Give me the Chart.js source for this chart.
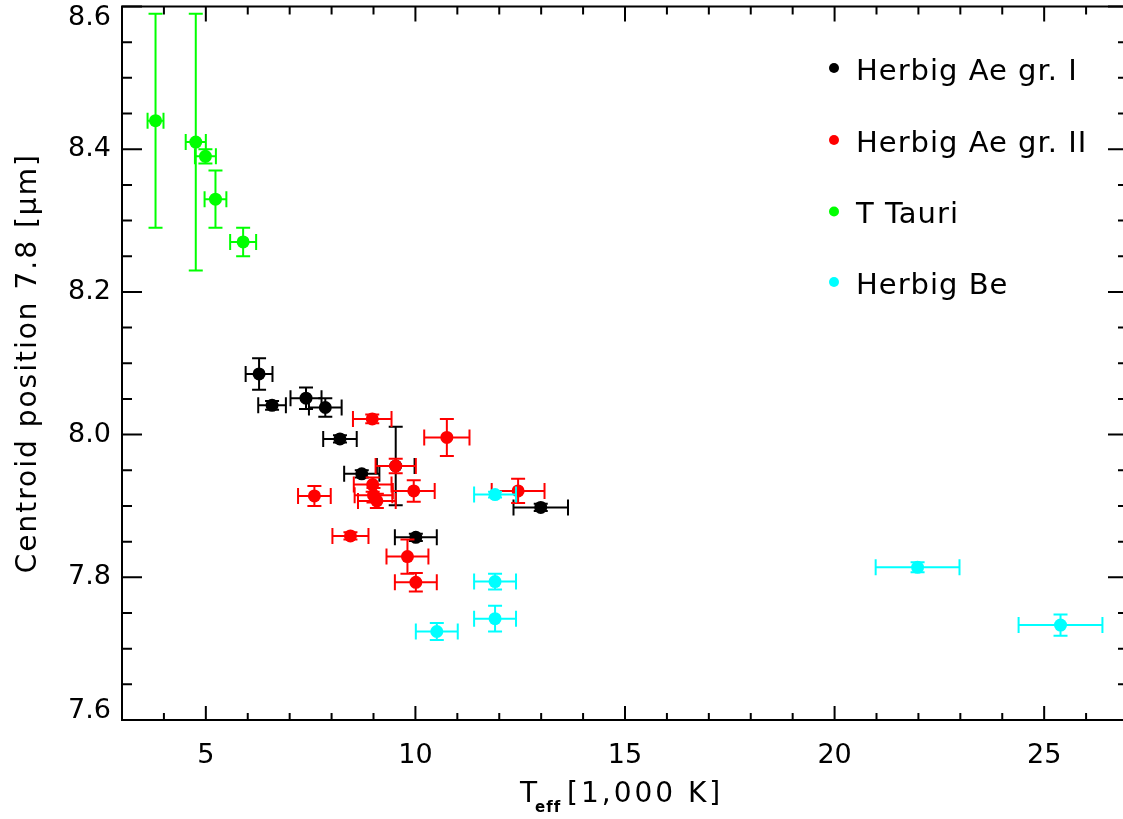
<!DOCTYPE html>
<html>
<head>
<meta charset="utf-8">
<script src="https://cdn.jsdelivr.net/npm/chart.js@4/dist/chart.umd.min.js"></script>
<style>
  html, body { margin: 0; padding: 0; background: #fff; overflow: hidden; }
  #wrap { width: 1135px; height: 819px; }
</style>
</head>
<body>
<div id="wrap"><canvas id="c" width="1135" height="819"></canvas></div>
<script>
// Effective temperature (1,000 K) and 7.8 micron centroid position, with errors
const aeGroupI_T     = [6.27, 6.58, 7.39, 7.85, 8.20, 8.72, 9.53, 10.01, 12.99];
const aeGroupI_Terr  = [0.32, 0.33, 0.37, 0.39, 0.40, 0.42, 0.45, 0.50, 0.65];
const aeGroupI_C     = [8.085, 8.041, 8.051, 8.038, 7.994, 7.945, 7.956, 7.856, 7.898];
const aeGroupI_Cerr  = [0.022, 0.006, 0.015, 0.013, 0.005, 0.005, 0.055, 0.005, 0.005];

const aeGroupII_T    = [8.97, 10.75, 9.53, 7.59, 8.98, 9.00, 9.08, 9.96, 12.45, 8.45, 9.81, 10.01];
const aeGroupII_Terr = [0.46, 0.54, 0.48, 0.39, 0.45, 0.45, 0.45, 0.50, 0.63, 0.43, 0.50, 0.50];
const aeGroupII_C    = [8.022, 7.996, 7.956, 7.914, 7.930, 7.915, 7.907, 7.921, 7.921, 7.858, 7.829, 7.793];
const aeGroupII_Cerr = [0.006, 0.026, 0.010, 0.014, 0.010, 0.010, 0.010, 0.015, 0.017, 0.005, 0.024, 0.013];

const tTauri_T       = [3.80, 4.76, 4.99, 5.23, 5.89];
const tTauri_Terr    = [0.19, 0.24, 0.25, 0.26, 0.31];
const tTauri_C       = [8.44, 8.41, 8.39, 8.33, 8.27];
const tTauri_Cerr    = [0.15, 0.18, 0.01, 0.04, 0.02];

const be_T           = [11.90, 11.90, 11.90, 10.51, 21.98, 25.39];
const be_Terr        = [0.50, 0.50, 0.50, 0.50, 1.00, 1.00];
const be_C           = [7.916, 7.794, 7.742, 7.724, 7.814, 7.733];
const be_Cerr        = [0.004, 0.011, 0.018, 0.012, 0.007, 0.015];

const seriesNames = ['Herbig Ae gr. I', 'Herbig Ae gr. II', 'T Tauri', 'Herbig Be'];
const xTickLabels = [5, 10, 15, 20, 25];
const yTickLabels = ['7.6', '7.8', '8.0', '8.2', '8.4', '8.6'];
const xMin = 3, xMax = 27, xMinorStep = 1;
const yMin = 7.6, yMax = 8.6, yMinorStep = 0.05;

const FONT = '"DejaVu Sans", sans-serif';

function points(T, Terr, C, Cerr) {
  return T.map((t, i) => ({ x: t, y: C[i], xErr: Terr[i], yErr: Cerr[i] }));
}

function series(label, color, data, order) {
  return {
    label, data, order,
    backgroundColor: color,
    borderColor: color,
    pointRadius: 6.5,
    pointHoverRadius: 6.5,
    pointBorderWidth: 0,
    showLine: false
  };
}

// error bars drawn just beneath each dataset's markers
const errorBars = {
  id: 'errorBars',
  beforeDatasetDraw(chart, args) {
    const ds = chart.data.datasets[args.index];
    const sx = chart.scales.x, sy = chart.scales.y;
    const ctx = chart.ctx;
    ctx.save();
    ctx.strokeStyle = ds.backgroundColor;
    ctx.lineWidth = 2;
    ctx.lineCap = 'butt';
    ds.data.forEach(p => {
      const cx = sx.getPixelForValue(p.x), cy = sy.getPixelForValue(p.y);
      const x0 = sx.getPixelForValue(p.x - p.xErr), x1 = sx.getPixelForValue(p.x + p.xErr);
      const y0 = sy.getPixelForValue(p.y - p.yErr), y1 = sy.getPixelForValue(p.y + p.yErr);
      ctx.beginPath();
      ctx.moveTo(x0, cy); ctx.lineTo(x1, cy);
      ctx.moveTo(x0, cy - 8); ctx.lineTo(x0, cy + 8);
      ctx.moveTo(x1, cy - 8); ctx.lineTo(x1, cy + 8);
      ctx.moveTo(cx, y0); ctx.lineTo(cx, y1);
      ctx.moveTo(cx - 7, y0); ctx.lineTo(cx + 7, y0);
      ctx.moveTo(cx - 7, y1); ctx.lineTo(cx + 7, y1);
      ctx.stroke();
    });
    ctx.restore();
  }
};

// boxed axes with inward ticks, tick labels, titles and legend
const frame = {
  id: 'frame',
  afterDraw(chart) {
    const ctx = chart.ctx;
    const a = chart.chartArea;
    const sx = chart.scales.x, sy = chart.scales.y;
    ctx.save();
    ctx.strokeStyle = '#000';
    ctx.fillStyle = '#000';
    ctx.lineWidth = 2;
    ctx.strokeRect(a.left, a.top, a.right - a.left, a.bottom - a.top);

    ctx.beginPath();
    for (let v = xMin; v <= xMax + 1e-9; v += xMinorStep) {
      const px = sx.getPixelForValue(v);
      const major = Math.abs(v / 5 - Math.round(v / 5)) < 1e-6;
      const lb = major ? 14 : 7, lt = major ? 15 : 8;
      ctx.moveTo(px, a.bottom); ctx.lineTo(px, a.bottom - lb);
      ctx.moveTo(px, a.top); ctx.lineTo(px, a.top + lt);
    }
    for (let v = yMin; v <= yMax + 1e-9; v += yMinorStep) {
      const py = sy.getPixelForValue(v);
      const k = (v - yMin) / 0.2;
      const major = Math.abs(k - Math.round(k)) < 1e-6;
      const l = major ? 20 : 10;
      ctx.moveTo(a.left, py); ctx.lineTo(a.left + l, py);
      ctx.moveTo(a.right, py); ctx.lineTo(a.right - l, py);
    }
    ctx.stroke();

    // tick labels
    ctx.font = '27px ' + FONT;
    ctx.textAlign = 'center';
    ctx.textBaseline = 'middle';
    xTickLabels.forEach(t => {
      ctx.fillText(String(t), sx.getPixelForValue(t), 756);
    });
    ctx.textAlign = 'right';
    yTickLabels.forEach(t => {
      let py = sy.getPixelForValue(parseFloat(t));
      py = Math.min(Math.max(py, 18), 711);
      ctx.fillText(t, 111, py);
    });

    // x title with subscript
    ctx.textAlign = 'left';
    ctx.textBaseline = 'alphabetic';
    ctx.font = '28px ' + FONT;
    ctx.fillText('T', 520, 802);
    ctx.font = 'bold 15px ' + FONT;
    ctx.letterSpacing = '1px';
    ctx.fillText('eff', 535, 812);
    ctx.font = '28px ' + FONT;
    ctx.letterSpacing = '3px';
    ctx.fillText('[1,000 K]', 567, 802);

    // y title
    ctx.save();
    ctx.translate(36, (a.top + a.bottom) / 2);
    ctx.rotate(-Math.PI / 2);
    ctx.textAlign = 'center';
    ctx.letterSpacing = '2px';
    ctx.font = '28px ' + FONT;
    ctx.fillText('Centroid position 7.8 [\u03BCm]', 0, 0);
    ctx.restore();

    // legend
    const legendY = [68, 140, 211.5, 282];
    ctx.font = '29px ' + FONT;
    ctx.letterSpacing = '1px';
    ctx.textAlign = 'left';
    ctx.textBaseline = 'alphabetic';
    seriesNames.forEach((name, i) => {
      const ds = chart.data.datasets.find(d => d.label === name);
      ctx.fillStyle = ds.backgroundColor;
      ctx.beginPath();
      ctx.arc(834, legendY[i], 5, 0, Math.PI * 2);
      ctx.fill();
      ctx.fillStyle = '#000';
      ctx.fillText(name, 856, legendY[i] + 11.5);
    });
    ctx.restore();
  }
};

new Chart(document.getElementById('c'), {
  type: 'scatter',
  data: {
    datasets: [
      series(seriesNames[0], '#000000', points(aeGroupI_T, aeGroupI_Terr, aeGroupI_C, aeGroupI_Cerr), 4),
      series(seriesNames[1], '#ff0000', points(aeGroupII_T, aeGroupII_Terr, aeGroupII_C, aeGroupII_Cerr), 3),
      series(seriesNames[2], '#00ff00', points(tTauri_T, tTauri_Terr, tTauri_C, tTauri_Cerr), 2),
      series(seriesNames[3], '#00ffff', points(be_T, be_Terr, be_C, be_Cerr), 1)
    ]
  },
  options: {
    responsive: false,
    animation: false,
    devicePixelRatio: 1,
    layout: { padding: { left: 0, top: 6, right: 7, bottom: 0 } },
    plugins: { legend: { display: false }, tooltip: { enabled: false } },
    scales: {
      x: {
        type: 'linear', min: xMin, max: xMax,
        grid: { display: false, drawTicks: false },
        border: { display: false },
        ticks: { display: false },
        afterFit(s) { s.height = 99; }
      },
      y: {
        type: 'linear', min: yMin, max: yMax,
        grid: { display: false, drawTicks: false },
        border: { display: false },
        ticks: { display: false },
        afterFit(s) { s.width = 122; }
      }
    }
  },
  plugins: [errorBars, frame]
});
</script>
</body>
</html>
